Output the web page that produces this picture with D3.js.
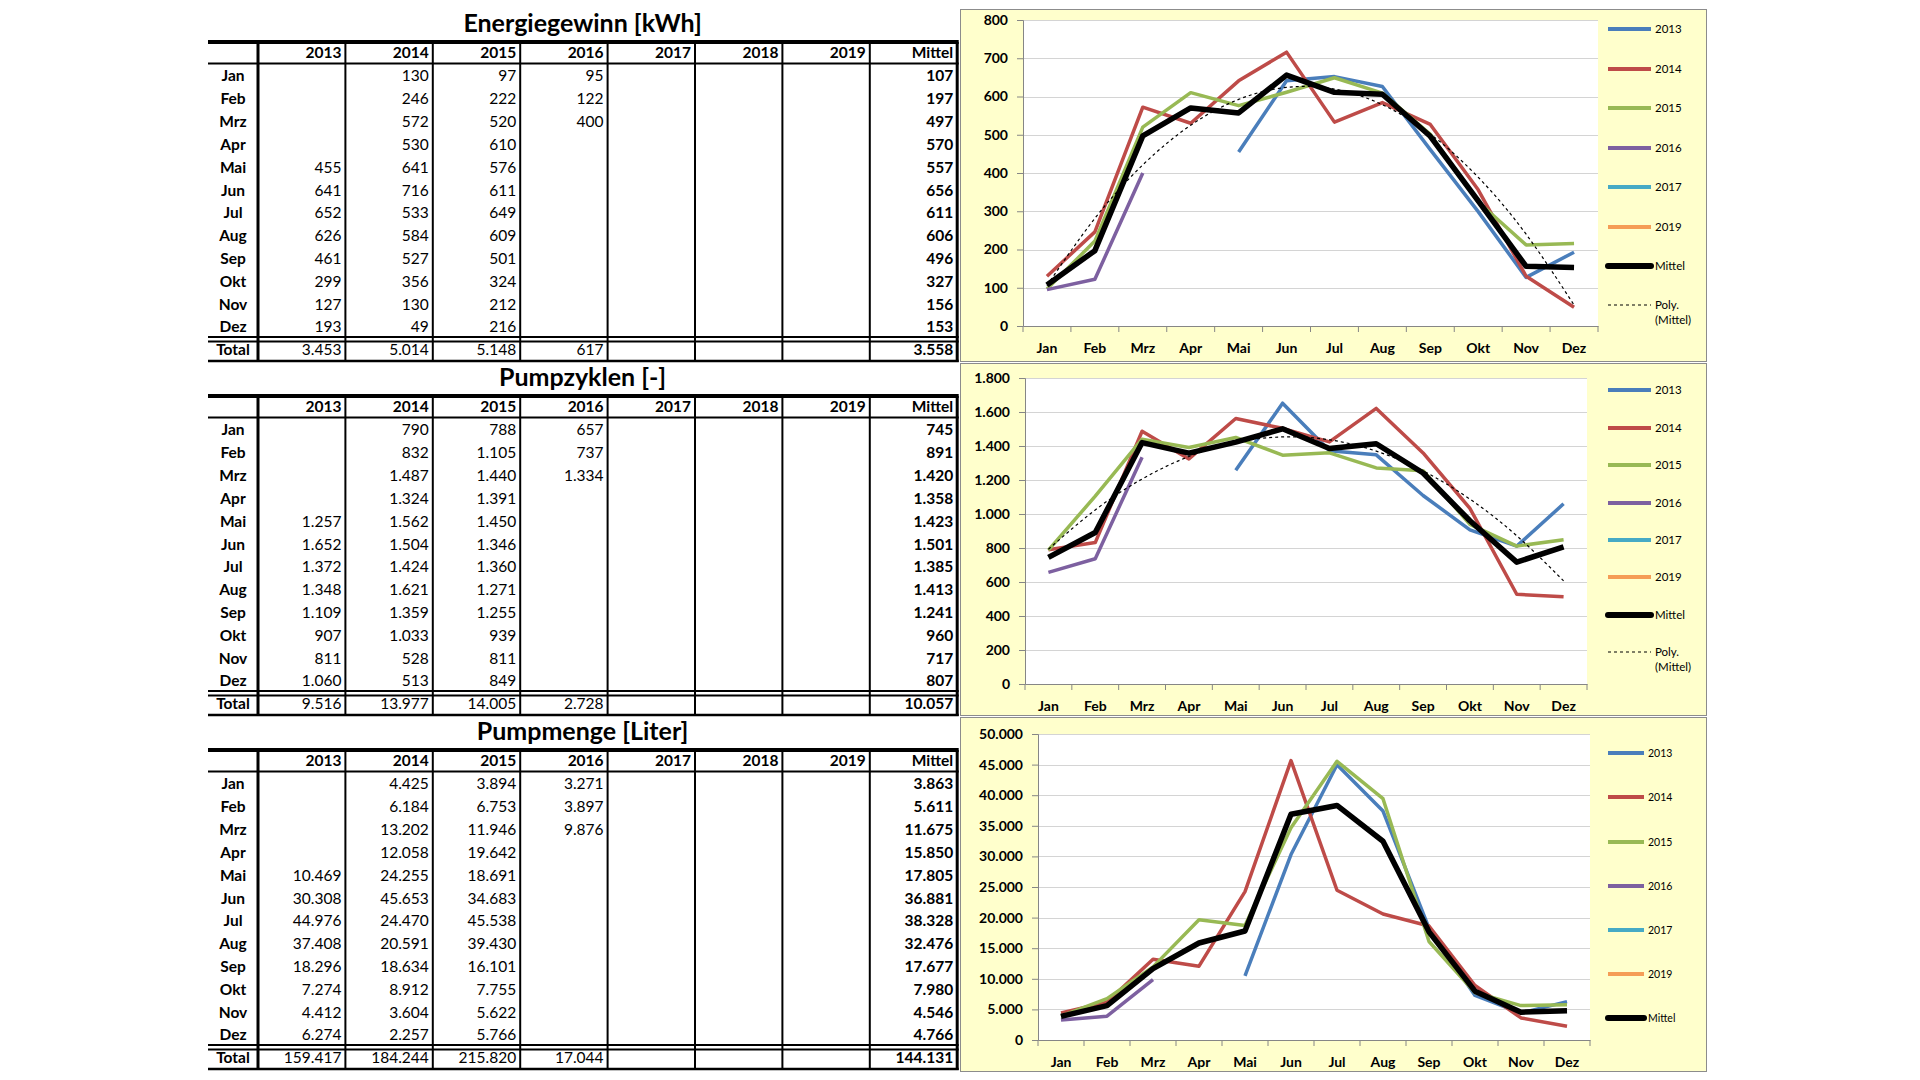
<!DOCTYPE html>
<html>
<head>
<meta charset="utf-8">
<script src="https://cdn.jsdelivr.net/npm/d3@7/dist/d3.min.js"></script>
<style>
body { margin: 0; background: #fff; }
svg { display: block; font-family: Lato, "Open Sans", sans-serif; }
</style>
</head>
<body>
<script>
var months = ["Jan","Feb","Mrz","Apr","Mai","Jun","Jul","Aug","Sep","Okt","Nov","Dez"];
var tableYears = ["2013","2014","2015","2016","2017","2018","2019"];
var legendNames = ["2013","2014","2015","2016","2017","2019"];
var legendColors = ["#4a7ebb","#be4b48","#98b954","#7d60a0","#46aac5","#f59d56"];

// Energiegewinn [kWh]
var energie2013 = [null,null,null,null,455,641,652,626,461,299,127,193];
var energie2014 = [130,246,572,530,641,716,533,584,527,356,130,49];
var energie2015 = [97,222,520,610,576,611,649,609,501,324,212,216];
var energie2016 = [95,122,400];
var energie2017 = [], energie2018 = [], energie2019 = [];
var energieMittel = [107,197,497,570,557,656,611,606,496,327,156,153];
var energieTotal = [3453,5014,5148,617,null,null,null,3558];

// Pumpzyklen [-]
var zyklen2013 = [null,null,null,null,1257,1652,1372,1348,1109,907,811,1060];
var zyklen2014 = [790,832,1487,1324,1562,1504,1424,1621,1359,1033,528,513];
var zyklen2015 = [788,1105,1440,1391,1450,1346,1360,1271,1255,939,811,849];
var zyklen2016 = [657,737,1334];
var zyklen2017 = [], zyklen2018 = [], zyklen2019 = [];
var zyklenMittel = [745,891,1420,1358,1423,1501,1385,1413,1241,960,717,807];
var zyklenTotal = [9516,13977,14005,2728,null,null,null,10057];

// Pumpmenge [Liter]
var menge2013 = [null,null,null,null,10469,30308,44976,37408,18296,7274,4412,6274];
var menge2014 = [4425,6184,13202,12058,24255,45653,24470,20591,18634,8912,3604,2257];
var menge2015 = [3894,6753,11946,19642,18691,34683,45538,39430,16101,7755,5622,5766];
var menge2016 = [3271,3897,9876];
var menge2017 = [], menge2018 = [], menge2019 = [];
var mengeMittel = [3863,5611,11675,15850,17805,36881,38328,32476,17677,7980,4546,4766];
var mengeTotal = [159417,184244,215820,17044,null,null,null,144131];

var blocks = [
  {title:"Energiegewinn [kWh]", cols:[energie2013,energie2014,energie2015,energie2016,energie2017,energie2018,energie2019],
   mittel:energieMittel, total:energieTotal, yMax:800, yStep:100, poly:true},
  {title:"Pumpzyklen [-]", cols:[zyklen2013,zyklen2014,zyklen2015,zyklen2016,zyklen2017,zyklen2018,zyklen2019],
   mittel:zyklenMittel, total:zyklenTotal, yMax:1800, yStep:200, poly:true},
  {title:"Pumpmenge [Liter]", cols:[menge2013,menge2014,menge2015,menge2016,menge2017,menge2018,menge2019],
   mittel:mengeMittel, total:mengeTotal, yMax:50000, yStep:5000, poly:false}
];

var de = d3.formatLocale({decimal:",", thousands:".", grouping:[3], currency:["","€"]});
var fmt = de.format(",.0f");

var svg = d3.select("body").append("svg").attr("width",1920).attr("height",1080);

// ---------- tables ----------
var tLeft = 208, colW = 87.4, rowH = 22.82, tfs = "15.5px";
var colX = d3.range(9).map(function(i){ return 258 + i*colW; });

function drawTable(b, off){
  var g = svg.append("g").attr("transform","translate(0,"+off+")");
  g.append("text").text(b.title).attr("x",(tLeft+colX[8])/2).attr("y",23)
    .attr("dy","0.35em").attr("text-anchor","middle").style("font-weight","bold").style("font-size","25px");

  // header
  var heads = tableYears.concat(["Mittel"]);
  heads.forEach(function(h,i){
    g.append("text").text(h).attr("x",colX[i+1]-4).attr("y",53).attr("dy","0.35em")
      .attr("text-anchor","end").style("font-weight","bold").style("font-size",tfs);
  });
  // rows
  months.forEach(function(m,r){
    var yy = 76 + r*rowH;
    g.append("text").text(m).attr("x",233).attr("y",yy).attr("dy","0.35em")
      .attr("text-anchor","middle").style("font-weight","bold").style("font-size",tfs);
    b.cols.forEach(function(c,i){
      if (c[r] == null) return;
      g.append("text").text(fmt(c[r])).attr("x",colX[i+1]-4).attr("y",yy).attr("dy","0.35em")
        .attr("text-anchor","end").style("font-size",tfs);
    });
    g.append("text").text(fmt(b.mittel[r])).attr("x",colX[8]-4).attr("y",yy).attr("dy","0.35em")
      .attr("text-anchor","end").style("font-weight","bold").style("font-size",tfs);
  });
  // total
  g.append("text").text("Total").attr("x",233).attr("y",350).attr("dy","0.35em")
    .attr("text-anchor","middle").style("font-weight","bold").style("font-size",tfs);
  b.total.forEach(function(v,i){
    if (v == null) return;
    g.append("text").text(fmt(v)).attr("x",colX[i+1]-4).attr("y",350).attr("dy","0.35em")
      .attr("text-anchor","end").style("font-size",tfs).style("font-weight", i==7 ? "bold" : "normal");
  });

  // lines
  var hl = [[42,4],[63.5,2],[337,2],[341.5,2],[361,2.5]];
  hl.forEach(function(h){
    g.append("line").attr("x1",tLeft).attr("x2",colX[8]+1.5).attr("y1",h[0]).attr("y2",h[0])
      .style("stroke","#000").style("stroke-width",h[1]);
  });
  colX.forEach(function(xx,i){
    g.append("line").attr("x1",xx).attr("x2",xx).attr("y1",42).attr("y2",362)
      .style("stroke","#000").style("stroke-width",(i==0||i==8) ? 3 : 2);
  });
}

// ---------- charts ----------
function quadFit(vals){
  // least squares y = a + b x + c x^2 (trend line)
  var s = [0,0,0,0,0], t = [0,0,0];
  vals.forEach(function(v,i){
    var x = i+1;
    for (var k=0;k<5;k++) s[k] += Math.pow(x,k);
    for (var k2=0;k2<3;k2++) t[k2] += v*Math.pow(x,k2);
  });
  var M = [[s[0],s[1],s[2],t[0]],[s[1],s[2],s[3],t[1]],[s[2],s[3],s[4],t[2]]];
  for (var i=0;i<3;i++){
    for (var j=i+1;j<3;j++){
      var f = M[j][i]/M[i][i];
      for (var k=i;k<4;k++) M[j][k] -= f*M[i][k];
    }
  }
  var c = [0,0,0];
  for (var i2=2;i2>=0;i2--){
    var sum = M[i2][3];
    for (var k3=i2+1;k3<3;k3++) sum -= M[i2][k3]*c[k3];
    c[i2] = sum/M[i2][i2];
  }
  return vals.map(function(v,i){ var x=i+1; return c[0]+c[1]*x+c[2]*x*x; });
}

var chartTop = [9,363,717], chartBot = [361,715,1071];
var plotTop = [20,378,734], plotLeft = [1023,1025,1038], plotRight = [1598,1587,1590];
var legY = [[20,60,99,139,178,218,257,296],[27,65,102,140,177,214,252,289],[36,80,125,169,213,257,301]];
var legX = 1608;

function drawChart(b, k){
  var g = svg.append("g");
  g.append("rect").attr("x",960.5).attr("y",chartTop[k]+0.5).attr("width",746).attr("height",chartBot[k]-chartTop[k])
    .style("fill","#ffffcc").style("stroke","#8c8c8c").style("stroke-width",1);
  var pb = plotTop[k]+306, pr = plotRight[k];
  g.append("rect").attr("x",plotLeft[k]).attr("y",plotTop[k]).attr("width",pr-plotLeft[k]).attr("height",306)
    .style("fill","#fff");

  var x = d3.scaleBand().domain(months).range([plotLeft[k],pr]);
  var y = d3.scaleLinear().domain([0,b.yMax]).range([pb,plotTop[k]]);
  var yTicks = d3.range(0,b.yMax+1,b.yStep);

  g.selectAll(".grid").data(yTicks.slice(1)).enter().append("line")
    .attr("x1",plotLeft[k]).attr("x2",pr).attr("y1",function(d){return Math.round(y(d))+0.5;})
    .attr("y2",function(d){return Math.round(y(d))+0.5;})
    .style("stroke","#d4d4d4").style("stroke-width",1);

  var ya = g.append("g").attr("transform","translate("+plotLeft[k]+",0)")
    .call(d3.axisLeft(y).tickValues(yTicks).tickSize(6).tickPadding(9).tickFormat(fmt));
  var xa = g.append("g").attr("transform","translate(0,"+pb+")")
    .call(d3.axisBottom(x).tickSize(0).tickPadding(17).tickSizeOuter(0));
  xa.selectAll(".xtick").data(months.concat([null])).enter().append("line")
    .attr("x1",function(d){ return d==null ? pr : x(d); })
    .attr("x2",function(d){ return d==null ? pr : x(d); })
    .attr("y1",0).attr("y2",6).style("stroke","#868686");
  [ya,xa].forEach(function(a){
    a.select(".domain").style("stroke","#868686");
    a.selectAll(".tick line").style("stroke","#868686");
    a.selectAll("text").style("font-size","14px").style("font-weight","bold").style("fill","#000")
      .style("font-family","Lato, 'Open Sans', sans-serif");
  });

  var line = d3.line().defined(function(d){ return d != null; })
    .x(function(d,i){ return x(months[i]) + x.bandwidth()/2; })
    .y(function(d){ return y(d); });
  var series = [b.cols[0],b.cols[1],b.cols[2],b.cols[3],b.cols[4],b.cols[6]];
  series.forEach(function(s,i){
    g.append("path").attr("d",line(s)).style("fill","none").style("stroke",legendColors[i])
      .style("stroke-width",3.5).style("stroke-linejoin","round");
  });
  g.append("path").attr("d",line(b.mittel)).style("fill","none").style("stroke","#000")
    .style("stroke-width",5.5).style("stroke-linejoin","round");
  if (b.poly){
    g.append("path").attr("d",line.curve(d3.curveNatural)(quadFit(b.mittel))).style("fill","none")
      .style("stroke","#000").style("stroke-width",1.2).style("stroke-dasharray","3,3");
  }

  // legend
  var ly = legY[k], fs = k==2 ? "10.5px" : "11.5px";
  var lx2 = k==2 ? legX+36 : legX+43;
  legendNames.concat(["Mittel"]).forEach(function(n,i){
    var yy = chartTop[k] + ly[i];
    g.append("line").attr("x1",legX).attr("x2",lx2).attr("y1",yy).attr("y2",yy)
      .style("stroke", i<6 ? legendColors[i] : "#000").style("stroke-width", i<6 ? 4 : 6)
      .style("stroke-linecap", i<6 ? "butt" : "round");
    g.append("text").text(n).attr("x",lx2+4).attr("y",yy).attr("dy","0.35em").style("font-size",fs);
  });
  if (b.poly){
    var py = chartTop[k] + ly[7];
    g.append("line").attr("x1",legX).attr("x2",lx2).attr("y1",py).attr("y2",py)
      .style("stroke","#000").style("stroke-width",1.2).style("stroke-dasharray","3,3");
    g.append("text").text("Poly.").attr("x",lx2+4).attr("y",py).attr("dy","0.35em").style("font-size",fs);
    g.append("text").text("(Mittel)").attr("x",lx2+4).attr("y",py+15).attr("dy","0.35em").style("font-size",fs);
  }
}

blocks.forEach(function(b,k){
  drawTable(b, k*354);
  drawChart(b, k);
});
</script>
</body>
</html>
